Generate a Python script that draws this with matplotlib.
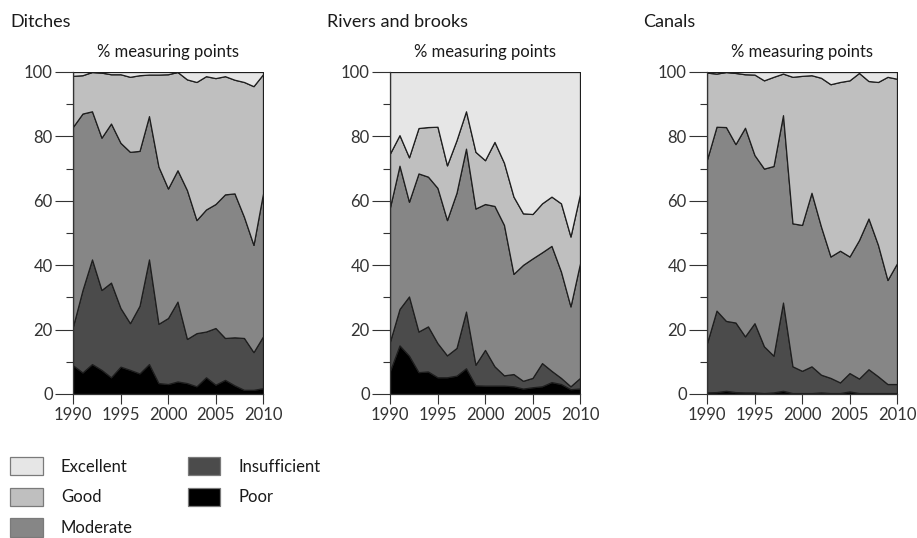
import matplotlib
matplotlib.use("Agg")
import matplotlib.pyplot as plt
from matplotlib.patches import Patch
from matplotlib.ticker import MultipleLocator

plt.rcParams.update({
    "font.family": ["Lato", "DejaVu Sans"],
    "text.color": "#1a1a1a",
    "xtick.color": "#333333",
    "ytick.color": "#333333",
})

years = list(range(1990, 2011))
classes = ["Excellent", "Good", "Moderate", "Insufficient", "Poor"]
colors = {"Excellent": "#e6e6e6", "Good": "#bfbfbf", "Moderate": "#868686",
          "Insufficient": "#4b4b4b", "Poor": "#000000"}

# share of measuring points per class (%)
ditches_poor = [8.9, 6.7, 9.3, 7.5, 5.2, 8.5, 7.5, 6.4, 9.3, 3.4, 3.1, 3.9, 3.4, 2.4, 5.2, 2.9, 4.4, 2.7, 1.3, 1.3, 1.8]
ditches_insufficient = [12.1, 25.6, 32.5, 24.8, 29.4, 18.2, 14.5, 21.0, 32.5, 18.4, 20.5, 24.8, 13.7, 16.5, 14.2, 17.6, 13.0, 14.9, 16.1, 11.7, 16.1]
ditches_moderate = [62.0, 54.8, 46.0, 47.3, 49.4, 51.3, 53.2, 48.1, 44.5, 48.8, 40.2, 40.8, 46.2, 35.1, 37.9, 38.5, 44.6, 44.7, 37.6, 33.3, 44.4]
ditches_good = [15.8, 11.9, 12.2, 20.2, 15.3, 21.3, 23.3, 23.5, 12.9, 28.6, 35.5, 30.5, 34.4, 42.9, 41.4, 39.1, 36.7, 35.3, 41.9, 49.3, 37.0]
ditches_excellent = [1.2, 1.0, 0.0, 0.2, 0.7, 0.7, 1.5, 1.0, 0.8, 0.8, 0.7, 0.0, 2.3, 3.1, 1.3, 1.9, 1.3, 2.4, 3.1, 4.4, 0.7]

rivers_poor = [7.2, 15.1, 11.9, 6.8, 7.0, 5.2, 5.2, 5.7, 8.0, 2.7, 2.6, 2.6, 2.6, 2.4, 1.7, 2.1, 2.4, 3.7, 3.1, 1.5, 1.7]
rivers_insufficient = [9.1, 11.3, 18.4, 12.6, 14.0, 10.6, 6.8, 8.6, 17.6, 6.4, 11.1, 6.0, 3.2, 3.8, 2.4, 2.9, 7.2, 3.5, 1.9, 0.9, 3.3]
rivers_moderate = [41.7, 44.5, 29.4, 49.1, 46.5, 48.2, 42.0, 48.2, 50.6, 48.5, 45.3, 49.8, 46.7, 31.1, 36.0, 37.1, 34.4, 38.8, 33.0, 24.8, 35.6]
rivers_good = [16.7, 9.5, 13.8, 14.1, 15.4, 19.0, 17.0, 16.3, 11.6, 17.6, 13.6, 19.9, 19.3, 24.0, 16.0, 13.8, 15.2, 15.3, 21.2, 21.7, 21.5]
rivers_excellent = [25.3, 19.6, 26.5, 17.4, 17.1, 17.0, 29.0, 21.2, 12.2, 24.8, 27.4, 21.7, 28.2, 38.7, 43.9, 44.1, 40.8, 38.7, 40.8, 51.1, 37.9]

canals_poor = [0.5, 0.6, 1.0, 0.6, 0.5, 0.5, 0.3, 0.5, 1.0, 0.3, 0.3, 0.3, 0.5, 0.3, 0.3, 0.8, 0.3, 0.3, 0.3, 0.3, 0.3]
canals_insufficient = [15.3, 25.3, 21.7, 21.6, 17.4, 21.5, 14.5, 11.4, 27.4, 8.3, 6.9, 8.3, 5.5, 4.7, 3.3, 5.7, 4.5, 7.4, 5.2, 2.8, 2.8]
canals_moderate = [57.0, 57.1, 60.2, 55.4, 64.8, 52.2, 55.2, 58.9, 58.2, 44.4, 45.3, 53.9, 46.0, 37.7, 40.9, 36.2, 43.0, 46.8, 40.8, 32.3, 37.5]
canals_good = [27.0, 16.5, 17.1, 22.1, 16.6, 25.0, 27.4, 27.7, 12.9, 45.5, 46.3, 36.5, 46.2, 53.5, 52.4, 54.7, 51.9, 42.7, 50.6, 63.1, 57.3]
canals_excellent = [0.2, 0.5, 0.0, 0.3, 0.7, 0.8, 2.6, 1.5, 0.5, 1.5, 1.2, 1.0, 1.8, 3.8, 3.1, 2.6, 0.3, 2.8, 3.1, 1.5, 2.1]

panels = [
    ("Ditches", [ditches_poor, ditches_insufficient, ditches_moderate, ditches_good, ditches_excellent]),
    ("Rivers and brooks", [rivers_poor, rivers_insufficient, rivers_moderate, rivers_good, rivers_excellent]),
    ("Canals", [canals_poor, canals_insufficient, canals_moderate, canals_good, canals_excellent]),
]

W, H = 917, 538
fig = plt.figure(figsize=(W / 100, H / 100), dpi=100)

ax_left = [73, 390, 707]
title_x = [10, 327, 643]
stack_order = ["Poor", "Insufficient", "Moderate", "Good", "Excellent"]

for (name, series), x0, tx in zip(panels, ax_left, title_x):
    ax = fig.add_axes([x0 / W, (H - 394) / H, 190 / W, 322 / H])
    ax.stackplot(years, *series, colors=[colors[c] for c in stack_order],
                 edgecolor="#1e1e1e", linewidth=0.9)
    ax.set_xlim(1990, 2010)
    ax.set_ylim(0, 100)
    for s in ("top", "right"):
        ax.spines[s].set_visible(False)
    for s in ("left", "bottom"):
        ax.spines[s].set_color("#333333")
        ax.spines[s].set_linewidth(0.9)
    ax.set_xticks([1990, 1995, 2000, 2005, 2010])
    ax.set_yticks([0, 20, 40, 60, 80, 100])
    ax.yaxis.set_minor_locator(MultipleLocator(10))
    ax.tick_params(axis="y", which="major", length=13, width=0.8, pad=1.5, labelsize=12)
    ax.tick_params(axis="y", which="minor", length=5, width=0.8)
    ax.tick_params(axis="x", which="major", length=7, width=0.8, pad=2, labelsize=12)
    fig.text(tx / W, 1 - 22 / H, name, fontsize=13, ha="left", va="center")
    fig.text((x0 + 95) / W, 1 - 52 / H, "% measuring points", fontsize=12, ha="center", va="center")

handles = [Patch(facecolor=colors[c], edgecolor="#7a7a7a", linewidth=0.9, label=c) for c in classes]
fig.legend(handles=handles, ncol=2, loc="upper left", bbox_to_anchor=(10 / W, 1 - 457 / H),
           frameon=False, fontsize=12, borderpad=0, borderaxespad=0,
           handlelength=1.95, handleheight=1.3, handletextpad=1.1,
           labelspacing=0.75, columnspacing=3.3)

fig.savefig("out.png", dpi=100, facecolor="white")
